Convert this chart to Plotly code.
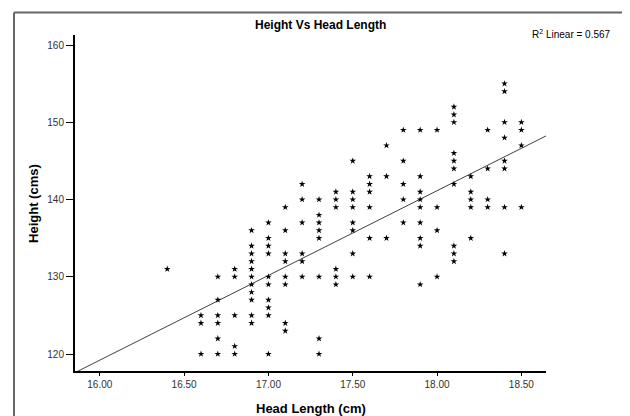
import numpy as np
import plotly.graph_objects as go

# head length (cm) columns and the heights (cms) read at each one
head_cols = [16.4, 16.6, 16.7, 16.8, 16.9, 17.0, 17.1, 17.2, 17.3, 17.4,
             17.5, 17.6, 17.7, 17.8, 17.9, 18.0, 18.1, 18.2, 18.3, 18.4, 18.5]
heights_by_col = [
    [131],
    [125, 124, 120],
    [130, 127, 125, 124, 122, 120],
    [131, 130, 125, 121, 120],
    [136, 134, 133, 132, 131, 130, 129, 128, 127, 125, 124],
    [137, 135, 134, 133, 130, 129, 127, 126, 125, 120],
    [139, 136, 133, 132, 130, 129, 124, 123],
    [142, 140, 137, 133, 132, 130],
    [140, 138, 137, 136, 135, 130, 122, 120],
    [141, 140, 139, 131, 130, 129],
    [145, 141, 140, 139, 137, 136, 133, 130],
    [143, 142, 141, 139, 135, 130],
    [147, 143, 135],
    [149, 145, 142, 140, 137],
    [149, 143, 141, 140, 139, 137, 135, 134, 129],
    [149, 139, 136, 130],
    [152, 151, 150, 146, 145, 144, 142, 134, 133, 132],
    [143, 141, 140, 139, 135],
    [149, 144, 140, 139],
    [155, 154, 150, 148, 145, 144, 139, 133],
    [150, 149, 147, 139],
]
x_ticks = [16.0, 16.5, 17.0, 17.5, 18.0, 18.5]
x_tick_text = ["16.00", "16.50", "17.00", "17.50", "18.00", "18.50"]
y_ticks = [120, 130, 140, 150, 160]
r2_text = "0.567"

x_range = [15.853, 18.646]
y_range = [117.8, 161.3]

head = []
height = []
for c, hs in zip(head_cols, heights_by_col):
    for h in hs:
        head.append(c)
        height.append(h)

# linear fit line across the whole axis
slope, icpt = np.polyfit(head, height, 1)
line_x = np.array(x_range)
line_y = slope * line_x + icpt

font = "Liberation Sans, Arial, sans-serif"

fig = go.Figure()
fig.add_trace(go.Scatter(x=line_x, y=line_y, mode="lines",
                         line=dict(color="#404040", width=1),
                         hoverinfo="skip", showlegend=False))
fig.add_trace(go.Scatter(x=head, y=height, mode="markers",
                         marker=dict(symbol="star", size=5, color="black",
                                     line=dict(width=0)),
                         showlegend=False))

fig.update_layout(
    width=630, height=416,
    margin=dict(l=67, r=92, t=27, b=53),
    paper_bgcolor="white", plot_bgcolor="white",
    font=dict(family=font, size=10, color="#333333"),
)
fig.update_xaxes(range=x_range, tickvals=x_ticks, ticktext=x_tick_text,
                 showgrid=False, zeroline=False, showline=True,
                 linecolor="black", linewidth=2, ticks="outside",
                 ticklen=3, tickcolor="black", tickfont=dict(size=10, color="#333333"))
fig.update_yaxes(range=y_range, tickvals=y_ticks, showgrid=False,
                 zeroline=False, showline=True, linecolor="black",
                 linewidth=2, ticks="outside", ticklen=7, tickcolor="black",
                 tickfont=dict(size=10, color="#333333"))

# outer frame: only its left and top edges fall inside the screenshot
fig.add_shape(type="line", xref="paper", yref="paper",
              x0=-0.1295, x1=-0.1295, y0=-0.3, y1=1.067,
              line=dict(color="#333333", width=1.5))
fig.add_shape(type="line", xref="paper", yref="paper",
              x0=-0.1295, x1=1.17, y0=1.067, y1=1.067,
              line=dict(color="#666666", width=2))

fig.add_annotation(text="<b>Height Vs Head Length</b>", xref="paper", yref="paper",
                   x=0.522, y=1.0298, xanchor="center", yanchor="middle",
                   showarrow=False, font=dict(family=font, size=12, color="black"))
fig.add_annotation(text="R<sup>2</sup> Linear = " + r2_text, xref="paper", yref="paper",
                   x=1.142, y=1.003, xanchor="right", yanchor="middle",
                   showarrow=False, font=dict(family=font, size=10, color="black"))
fig.add_annotation(text="<b>Head Length (cm)</b>", xref="paper", yref="paper",
                   x=0.5, y=-0.113, xanchor="center", yanchor="middle",
                   showarrow=False, font=dict(family=font, size=13, color="black"))
fig.add_annotation(text="<b>Height (cms)</b>", xref="paper", yref="paper",
                   x=-0.0892, y=0.5, xanchor="center", yanchor="middle",
                   textangle=-90, showarrow=False,
                   font=dict(family=font, size=13, color="black"))

fig.write_html("out.html")
